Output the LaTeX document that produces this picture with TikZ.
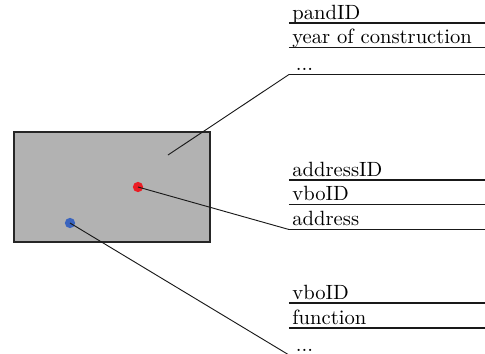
\documentclass[tikz,border=0pt]{standalone}
\begin{document}
\begin{tikzpicture}[x=0.485pt,y=-0.485pt,
  building/.style={draw=black!85,line width=1pt,fill=black!30},
  spot/.style={circle,inner sep=0pt,minimum size=5pt},
  row/.style={anchor=south west,minimum width=196*0.485pt,text width=190*0.485pt,
    align=left,inner xsep=0.4pt,inner ysep=0pt,text height=6.9pt,text depth=1.7pt},
  rule/.style={line width=0.55pt,black!90},
  leader/.style={line width=0.45pt,black!90}]
\useasboundingbox (0,0) rectangle (485,353);

% the building footprint
\draw[building] (14,132) rectangle (210,242);
\coordinate (pand) at (168,155);
\node[spot,fill={rgb,255:red,235;green,28;blue,36}] (adres) at (138,187) {};
\node[spot,fill={rgb,255:red,58;green,100;blue,190}] (vbo) at (70,223) {};

% attribute table of the building
\node[row] (p1) at (289,23) {pandID};
\node[row] (p2) at (289,47.5) {year of construction};
\node[row] (p3) at (289,74.5) {\,...};
% attribute table of the address
\node[row] (a1) at (289,180) {addressID};
\node[row] (a2) at (289,204.5) {vboID};
\node[row] (a3) at (289,229.5) {address};
% attribute table of the residential object
\node[row] (v1) at (289,303) {vboID};
\node[row] (v2) at (289,328) {function};
\node[row] (v3) at (289,355) {\,...};

\foreach \r in {p1,p2,p3,a1,a2,a3,v1,v2,v3}
  \draw[rule] (\r.south west) -- (\r.south east);

% leaders from the map features to their tables
\draw[leader] (pand) -- (p3.south west);
\draw[leader] (adres.center) -- (a3.south west);
\draw[leader] (vbo.center) -- (v3.south west);
\end{tikzpicture}
\end{document}
